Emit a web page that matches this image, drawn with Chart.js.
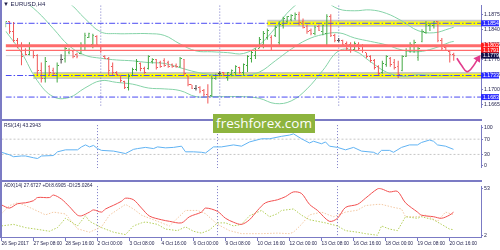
<!DOCTYPE html>
<html>
<head>
<meta charset="utf-8">
<script src="https://cdn.jsdelivr.net/npm/chart.js@4.4.1/dist/chart.umd.min.js"></script>
<style>
  html, body { margin: 0; padding: 0; background: #fff; }
  #wrap { position: relative; width: 500px; height: 250px; overflow: hidden; }
  canvas { position: absolute; left: 0; display: block; }
  #mainChart { top: 0; }
  #rsiChart { top: 121px; }
  #adxChart { top: 182px; }
  .sep { position: absolute; left: 0; width: 482px; height: 2px; background: #7b7bc4; }
  #leftLine { position: absolute; left: 0; top: 0; width: 2px; height: 238px; background: #7b7bc4; }
  #logo { position: absolute; left: 213px; top: 114px; width: 102px; height: 19px; background: #8db43e;
          color: #fff; font: 13.5px "Open Sans", sans-serif; line-height: 19px; text-align: center; }
</style>
</head>
<body>
<div id="wrap">
  <canvas id="mainChart" width="500" height="119"></canvas>
  <div class="sep" style="top:119px"></div>
  <canvas id="rsiChart" width="500" height="59"></canvas>
  <div class="sep" style="top:180px"></div>
  <canvas id="adxChart" width="500" height="68"></canvas>
  <div id="leftLine"></div>
  <div id="logo">freshforex.com</div>
</div>
<script>
// time axis (H4 bars, one label every 8 bars)
const TICK_LABELS = ["26 Sep 2017", "27 Sep 08:00", "28 Sep 16:00", "2 Oct 00:00", "3 Oct 08:00",
  "4 Oct 16:00", "6 Oct 00:00", "9 Oct 08:00", "10 Oct 16:00", "12 Oct 00:00", "13 Oct 08:00",
  "16 Oct 16:00", "18 Oct 00:00", "19 Oct 08:00", "20 Oct 16:00"];
const TICK_BARS = [0, 8, 16, 24, 32, 40, 48, 56, 64, 72, 80, 88, 96, 104, 112];
const WEEK_STARTS = [24, 54, 84];

// EURUSD H4 bars
const OPEN = [
  1.1847,1.1857,1.1834,1.1814,1.1800,1.1792,1.1782,1.1790,1.1780,1.1745,
  1.1725,1.1753,1.1745,1.1737,1.1771,1.1773,1.1786,1.1788,1.1782,1.1784,
  1.1800,1.1822,1.1806,1.1824,1.1800,1.1778,1.1773,1.1755,1.1741,1.1733,
  1.1719,1.1706,1.1733,1.1747,1.1761,1.1749,1.1749,1.1765,1.1769,1.1763,
  1.1767,1.1763,1.1759,1.1757,1.1753,1.1769,1.1731,1.1711,1.1704,1.1706,
  1.1698,1.1690,1.1686,1.1727,1.1737,1.1739,1.1729,1.1735,1.1741,1.1751,
  1.1741,1.1757,1.1773,1.1780,1.1796,1.1806,1.1822,1.1822,1.1826,1.1810,
  1.1849,1.1859,1.1863,1.1865,1.1875,1.1859,1.1847,1.1838,1.1830,1.1847,
  1.1834,1.1830,1.1869,1.1826,1.1814,1.1814,1.1808,1.1806,1.1794,1.1806,
  1.1802,1.1786,1.1778,1.1767,1.1753,1.1739,1.1759,1.1773,1.1763,1.1755,
  1.1745,1.1778,1.1790,1.1800,1.1775,1.1812,1.1832,1.1849,1.1849,1.1857,
  1.1814,1.1798,1.1788,1.1782];
const HIGH = [
  1.1859,1.1859,1.1857,1.1820,1.1810,1.1796,1.1810,1.1792,1.1782,1.1763,
  1.1776,1.1757,1.1751,1.1763,1.1782,1.1802,1.1796,1.1790,1.1786,1.1810,
  1.1832,1.1832,1.1830,1.1826,1.1802,1.1780,1.1776,1.1763,1.1743,1.1733,
  1.1721,1.1737,1.1751,1.1771,1.1763,1.1753,1.1780,1.1773,1.1771,1.1767,
  1.1773,1.1767,1.1761,1.1761,1.1776,1.1771,1.1733,1.1711,1.1711,1.1708,
  1.1702,1.1713,1.1733,1.1737,1.1743,1.1741,1.1741,1.1747,1.1757,1.1753,
  1.1761,1.1780,1.1790,1.1796,1.1822,1.1836,1.1842,1.1826,1.1849,1.1859,
  1.1869,1.1871,1.1875,1.1879,1.1881,1.1865,1.1851,1.1842,1.1849,1.1851,
  1.1851,1.1875,1.1875,1.1830,1.1820,1.1816,1.1812,1.1810,1.1812,1.1810,
  1.1806,1.1786,1.1780,1.1771,1.1757,1.1767,1.1780,1.1776,1.1771,1.1767,
  1.1780,1.1796,1.1810,1.1816,1.1800,1.1840,1.1859,1.1855,1.1859,1.1859,
  1.1820,1.1802,1.1790,1.1786];
const LOW = [
  1.1845,1.1830,1.1810,1.1796,1.1757,1.1780,1.1780,1.1773,1.1733,1.1717,
  1.1717,1.1733,1.1731,1.1717,1.1761,1.1763,1.1782,1.1773,1.1773,1.1782,
  1.1790,1.1820,1.1796,1.1802,1.1786,1.1771,1.1733,1.1733,1.1733,1.1717,
  1.1702,1.1698,1.1731,1.1743,1.1743,1.1737,1.1747,1.1761,1.1747,1.1751,
  1.1753,1.1751,1.1751,1.1751,1.1751,1.1733,1.1708,1.1702,1.1698,1.1692,
  1.1684,1.1668,1.1684,1.1723,1.1731,1.1731,1.1721,1.1731,1.1733,1.1737,
  1.1733,1.1741,1.1763,1.1771,1.1796,1.1796,1.1816,1.1792,1.1822,1.1802,
  1.1842,1.1855,1.1859,1.1861,1.1849,1.1842,1.1830,1.1826,1.1826,1.1836,
  1.1826,1.1802,1.1822,1.1810,1.1810,1.1800,1.1790,1.1786,1.1790,1.1792,
  1.1786,1.1773,1.1763,1.1747,1.1733,1.1737,1.1753,1.1753,1.1747,1.1727,
  1.1743,1.1776,1.1786,1.1786,1.1767,1.1810,1.1830,1.1836,1.1842,1.1810,
  1.1792,1.1790,1.1763,1.1767];
const CLOSE = [
  1.1857,1.1834,1.1814,1.1800,1.1776,1.1782,1.1792,1.1780,1.1745,1.1725,
  1.1765,1.1740,1.1737,1.1757,1.1771,1.1796,1.1792,1.1778,1.1776,1.1806,
  1.1826,1.1830,1.1826,1.1806,1.1790,1.1773,1.1745,1.1741,1.1735,1.1721,
  1.1706,1.1731,1.1747,1.1765,1.1749,1.1741,1.1776,1.1771,1.1751,1.1755,
  1.1757,1.1755,1.1753,1.1753,1.1773,1.1737,1.1713,1.1704,1.1704,1.1696,
  1.1688,1.1684,1.1727,1.1733,1.1737,1.1733,1.1739,1.1745,1.1753,1.1741,
  1.1759,1.1776,1.1786,1.1792,1.1816,1.1830,1.1838,1.1800,1.1845,1.1851,
  1.1865,1.1869,1.1871,1.1875,1.1855,1.1845,1.1834,1.1830,1.1845,1.1838,
  1.1849,1.1869,1.1826,1.1814,1.1814,1.1804,1.1796,1.1792,1.1808,1.1796,
  1.1790,1.1776,1.1767,1.1751,1.1737,1.1761,1.1776,1.1759,1.1751,1.1735,
  1.1776,1.1792,1.1806,1.1810,1.1796,1.1836,1.1851,1.1853,1.1857,1.1814,
  1.1796,1.1792,1.1782,1.1779];

// Bollinger bands, read at every 4th bar
const BB_BARS = [0,4,8,12,16,20,24,28,32,36,40,44,48,52,56,60,64,68,72,76,80,84,88,92,96,100,104,108,112,113];
const BB_UPPER = [1.1974,1.1954,1.1934,1.1918,1.1901,1.1865,1.1834,1.1830,1.1830,1.1830,1.1826,1.1806,1.1790,1.1788,1.1786,
  1.1784,1.1804,1.1843,1.1887,1.1910,1.1907,1.1887,1.1883,1.1885,1.1877,1.1859,1.1837,1.1832,1.1842,1.1845];
const BB_MIDDLE = [1.1934,1.1910,1.1881,1.1842,1.1802,1.1780,1.1773,1.1769,1.1767,1.1763,1.1761,1.1751,1.1741,1.1735,1.1733,
  1.1733,1.1741,1.1767,1.1794,1.1816,1.1828,1.1832,1.1820,1.1812,1.1804,1.1792,1.1788,1.1796,1.1810,1.1812];
const BB_LOWER = [1.1836,1.1786,1.1721,1.1684,1.1682,1.1704,1.1721,1.1717,1.1713,1.1704,1.1702,1.1698,1.1684,1.1684,1.1684,
  1.1684,1.1680,1.1668,1.1674,1.1702,1.1745,1.1790,1.1790,1.1765,1.1741,1.1731,1.1735,1.1733,1.1733,1.1733];

// drawn levels
const BLUE_LEVELS = [1.1854, 1.1733, 1.1683];
const RED_LEVELS = [1.1802, 1.1791];
const ZONE_LEVELS = [1.1854, 1.1733];
const ZONE_FROM = [66, 7];
const ARROW_BARS = [113.8, 115.0, 116.3, 117.7, 119.1];
const ARROW_PRICES = [1.1773, 1.1756, 1.1742, 1.1752, 1.1772];
const PRICE_TICKS = [1.1665, 1.1700, 1.1735, 1.1770, 1.1805, 1.1840, 1.1875];
const LAST = CLOSE[CLOSE.length - 1];
const PRICE_MARKS = [1.1854, 1.1802, 1.1791, LAST, 1.1733, 1.1683];
const PRICE_MARK_COLORS = ["#2a2aff", "#ff1c1c", "#ff1c1c", "#12124c", "#2a2aff", "#2a2aff"];

// RSI(14)
const RSI_BARS = [0,2,3,5,6,8,9,10,13,14,16,19,20,21,22,23,24,25,28,31,33,34,36,38,39,41,43,45,46,48,
  50,51,53,55,58,60,62,65,67,70,72,73,75,77,78,80,81,82,84,86,88,90,93,94,95,97,98,100,102,104,105,107,108,109,111,113];
const RSI = [35.6,29.0,24.0,25.9,25.9,21.3,19.3,25.9,27.1,36.8,42.0,42.0,49.7,54.9,49.7,53.6,45.3,40.6,38.7,32.3,
  43.3,45.3,48.4,45.3,49.7,47.2,48.4,51.6,36.8,36.8,35.6,33.7,49.7,49.7,54.9,51.6,62.7,71.0,71.0,77.4,
  80.7,83.9,71.0,60.0,64.6,58.0,62.7,51.6,48.4,42.0,48.4,38.7,35.6,30.4,40.6,40.6,35.6,48.4,54.9,54.9,
  61.3,67.7,64.6,54.9,51.6,43.3];
const RSI_LEVELS = [70, 30];
const RSI_TICKS = [0, 30, 70, 100];

// ADX(14)
const ADX_BARS = [0,2,4,6,8,9,12,13,15,17,19,20,22,23,25,26,28,30,31,33,35,37,40,42,45,47,50,51,54,56,
  58,60,62,64,66,69,71,73,75,77,79,82,84,86,89,91,94,95,97,99,101,104,105,108,110,112,113];
const ADX = [35.6,32.2,36.9,37.9,40.2,43.6,43.6,46.3,41.9,33.6,24.5,23.8,27.8,30.2,27.8,31.2,35.2,39.6,42.9,41.2,
  32.2,23.5,19.5,17.8,16.1,22.8,27.8,32.2,28.6,21.1,16.8,14.5,19.5,29.6,37.9,41.2,44.6,49.7,48.0,36.2,
  29.6,17.8,21.1,32.9,36.2,42.9,53.0,53.0,49.7,50.3,37.9,27.8,24.5,22.8,21.1,24.5,27.7];
const PDI_BARS = [0,3,6,10,12,14,16,19,21,22,25,28,31,33,35,36,39,41,44,46,48,50,52,54,56,58,60,62,65,67,
  69,70,73,75,77,79,81,84,86,89,91,94,95,97,99,101,104,105,108,110,112,113];
const PDI = [12.8,14.5,11.0,8.4,7.0,11.0,21.1,12.8,23.8,17.8,11.0,6.0,3.4,12.8,16.1,17.1,14.5,9.4,7.7,11.8,
  7.0,5.0,8.4,16.1,16.1,12.8,14.5,23.8,29.6,22.8,26.1,29.6,31.2,24.5,19.5,17.8,16.1,12.8,7.7,6.0,
  4.4,2.7,12.8,9.4,7.7,22.8,21.1,22.8,19.5,14.5,9.4,8.7];
const MDI_BARS = [0,2,4,6,8,11,13,16,19,22,25,27,31,33,35,39,42,46,49,51,54,57,60,62,65,69,72,73,75,77,
  80,83,86,89,91,94,95,98,100,101,104,106,109,111,113];
const MDI = [26.1,34.9,37.9,34.9,30.9,24.8,27.8,25.8,9.7,6.0,11.8,24.5,36.2,31.2,24.5,17.8,12.8,29.6,29.6,26.1,
  14.5,7.7,4.4,4.4,4.4,5.0,4.4,6.0,14.5,24.8,27.8,22.8,27.8,29.9,34.9,36.2,36.2,32.9,31.2,22.8,
  22.8,24.5,17.8,27.8,25.0];
const ADX_TICKS = [2, 53];

const AXIS = "#7b7bc4", TEXT = "#1e1e4a";
const UP = "#43a843", DOWN = "#f05656", FLAT = "#404040";
const X_MAX = 119.875;   // 4px per bar

Chart.defaults.font.family = '"Liberation Sans", Arial, sans-serif';
Chart.defaults.animation = false;
Chart.defaults.plugins.legend.display = false;
Chart.defaults.plugins.tooltip.enabled = false;

const pts = (xs, ys) => xs.map((x, k) => ({ x: x, y: ys[k] }));
const barColor = i => CLOSE[i] > OPEN[i] ? UP : (CLOSE[i] < OPEN[i] ? DOWN : FLAT);

function tickImage(side, color) {
  const c = document.createElement("canvas");
  c.width = 3; c.height = 1;
  const g = c.getContext("2d");
  g.fillStyle = color;
  g.fillRect(side === "open" ? 0 : 2, 0, 1, 1);
  return c;
}
const TICK_IMG = {};
["open", "close"].forEach(s => {
  TICK_IMG[s] = {};
  [UP, DOWN, FLAT].forEach(c => TICK_IMG[s][c] = tickImage(s, c));
});

function level(y, from, color, width, dash, order) {
  return { type: "line", data: [{ x: from, y: y }, { x: X_MAX, y: y }], borderColor: color,
    borderWidth: width, borderDash: dash || [], pointRadius: 0, order: order };
}
function curve(xs, ys, color, width, dash, tension, order) {
  return { type: "line", data: pts(xs, ys), borderColor: color, borderWidth: width,
    borderDash: dash || [], pointRadius: 0, tension: tension, order: order };
}

function xScale(show) {
  return {
    type: "linear", min: 0, max: X_MAX, offset: false, display: show,
    border: { display: show, color: AXIS },
    grid: { display: show, drawOnChartArea: false, tickLength: 3, color: AXIS, offset: false },
    afterBuildTicks: s => { s.ticks = TICK_BARS.map(v => ({ value: v })); },
    ticks: { align: "start", padding: 0, maxRotation: 0, autoSkip: false, color: TEXT,
      font: { size: 4.8 }, callback: (v, i) => TICK_LABELS[i] },
    afterFit: s => { s.height = 12; }
  };
}
function yScale(min, max, ticks, fmt) {
  return {
    position: "right", min: min, max: max,
    border: { color: AXIS },
    grid: { drawOnChartArea: false, tickLength: 2, color: AXIS },
    afterBuildTicks: s => { s.ticks = ticks.map(v => ({ value: v })); },
    ticks: { padding: 1, color: TEXT, font: { size: 5.2 }, callback: fmt },
    afterFit: s => { s.width = 19; }
  };
}

const weekLines = {
  id: "weekLines",
  beforeDatasetsDraw(chart) {
    const { ctx, chartArea: a, scales: { x } } = chart;
    ctx.save();
    ctx.strokeStyle = "#7676c6";
    ctx.lineWidth = 1;
    ctx.setLineDash([1, 2]);
    WEEK_STARTS.forEach(i => {
      const px = x.getPixelForValue(i);
      ctx.beginPath(); ctx.moveTo(px, a.top); ctx.lineTo(px, a.bottom); ctx.stroke();
    });
    ctx.restore();
  }
};
const paneLabel = {
  id: "paneLabel",
  afterDraw(chart, args, opts) {
    const ctx = chart.ctx;
    ctx.save();
    ctx.font = opts.size + 'px "Liberation Sans", sans-serif';
    ctx.fillStyle = TEXT;
    ctx.textBaseline = "top";
    ctx.fillText(opts.text, opts.x, opts.y);
    ctx.restore();
  }
};
const priceBoxes = {
  id: "priceBoxes",
  afterDraw(chart) {
    const { ctx, scales: { y } } = chart;
    ctx.save();
    ctx.font = '5.2px "Liberation Sans", sans-serif';
    ctx.textBaseline = "middle";
    PRICE_MARKS.forEach((v, k) => {
      const py = y.getPixelForValue(v);
      ctx.fillStyle = PRICE_MARK_COLORS[k];
      ctx.fillRect(481, py - 3, 18, 6);
      ctx.fillStyle = "#fff";
      ctx.fillText(v.toFixed(4), 483, py + 0.3);
    });
    ctx.restore();
  }
};

const layout = { padding: { left: 1.5, right: 0, top: 0, bottom: 0 } };

// main price pane
const mainSets = [
  { type: "line", data: pts(ARROW_BARS, ARROW_PRICES), borderColor: "#e23c8c", backgroundColor: "#e23c8c",
    borderWidth: 1.6, tension: 0.4, pointRadius: [0, 0, 0, 0, 3], pointStyle: "triangle",
    pointRotation: 35, order: 0 }
];
BLUE_LEVELS.forEach(v => mainSets.push(level(v, 0, "#4a4af2", 1, [6, 2, 1.5, 2], 1)));
mainSets.push(level(RED_LEVELS[0], 0, "#ff6b6b", 3, [], 2));
mainSets.push(level(RED_LEVELS[1], 0, "#ff6b6b", 1.3, [], 2));
mainSets.push({ type: "line", data: OPEN.map((v, i) => ({ x: i, y: v })), showLine: false, pointRadius: 1,
  pointStyle: c => TICK_IMG.open[barColor(c.dataIndex)], order: 3 });
mainSets.push({ type: "line", data: CLOSE.map((v, i) => ({ x: i, y: v })), showLine: false, pointRadius: 1,
  pointStyle: c => TICK_IMG.close[barColor(c.dataIndex)], order: 3 });
mainSets.push({ type: "bar", data: HIGH.map((h, i) => ({ x: i, y: [LOW[i], h] })), barThickness: 1,
  inflateAmount: 0, borderWidth: 0, backgroundColor: c => barColor(c.dataIndex), order: 4 });
[BB_UPPER, BB_MIDDLE, BB_LOWER].forEach(b => mainSets.push(curve(BB_BARS, b, "#86d3a8", 1, [], 0.4, 5)));
ZONE_LEVELS.forEach((v, k) => mainSets.push(level(v, ZONE_FROM[k], "#ffff00", 3.5, [], 6)));
ZONE_LEVELS.forEach((v, k) => mainSets.push(level(v, ZONE_FROM[k], "rgba(95,95,95,0.35)", 7, [], 7)));
mainSets.push(level(LAST, 0, "#d6d6d6", 1, [], 8));

new Chart(document.getElementById("mainChart"), {
  type: "bar",
  data: { datasets: mainSets },
  options: {
    responsive: false, layout: layout, events: [],
    scales: { x: xScale(false), y: yScale(1.1660, 1.1895, PRICE_TICKS, v => v.toFixed(4)) },
    plugins: { paneLabel: { text: "\u25BC EURUSD,H4", x: 3, y: 1.5, size: 6 } }
  },
  plugins: [weekLines, paneLabel, priceBoxes]
});

// RSI pane
const rsiSets = [curve(RSI_BARS, RSI, "#61b3f3", 1, [], 0, 0)];
RSI_LEVELS.forEach(v => rsiSets.push(level(v, 0, "#c6c6c6", 1, [2, 2], 1)));
new Chart(document.getElementById("rsiChart"), {
  type: "line",
  data: { datasets: rsiSets },
  options: {
    responsive: false, layout: layout, events: [],
    scales: { x: xScale(false), y: yScale(-5.6, 106.8, RSI_TICKS, v => String(v)) },
    plugins: { paneLabel: { text: "RSI(14) 43.2943", x: 4, y: 2, size: 5 } }
  },
  plugins: [weekLines, paneLabel]
});

// ADX pane with time axis
new Chart(document.getElementById("adxChart"), {
  type: "line",
  data: { datasets: [
    curve(ADX_BARS, ADX, "#f25050", 1, [], 0.3, 0),
    curve(PDI_BARS, PDI, "#b4cf5a", 1, [1.5, 1.5], 0, 1),
    curve(MDI_BARS, MDI, "#f3c9a4", 1, [1.5, 1.5], 0, 2)
  ] },
  options: {
    responsive: false, layout: layout, events: [],
    scales: { x: xScale(true), y: yScale(-0.3, 56, ADX_TICKS, v => String(v)) },
    plugins: { paneLabel: { text: "ADX(14) 27.6727 +DI:8.6905 -DI:25.0264", x: 4, y: 1.5, size: 4.8 } }
  },
  plugins: [weekLines, paneLabel]
});
</script>
</body>
</html>
